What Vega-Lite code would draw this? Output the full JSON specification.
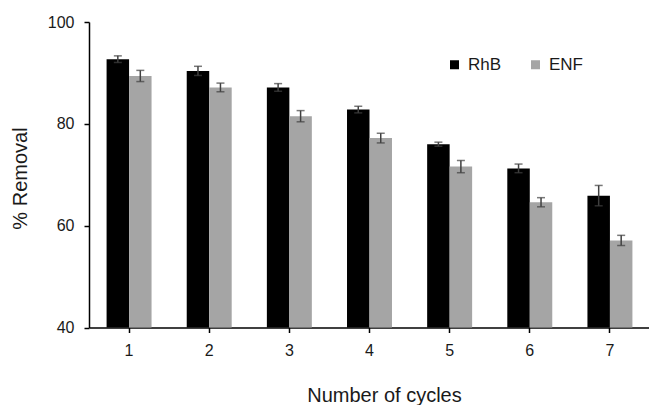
{
  "$schema": "https://vega.github.io/schema/vega-lite/v6.json",
  "width": 561,
  "height": 305.5,
  "autosize": {"type": "none"},
  "padding": {"left": 89, "top": 22, "right": 0, "bottom": 77.5},
  "background": "white",
  "config": {
    "view": {"stroke": null},
    "font": "Liberation Sans",
    "axis": {"grid": false, "domainColor": "#000000", "domainWidth": 1.5, "tickColor": "#000000", "tickWidth": 1.5, "tickSize": 5, "labelColor": "#1a1a1a", "titleColor": "#1a1a1a", "labelFont": "Liberation Sans", "titleFont": "Liberation Sans", "titleFontWeight": "normal"}
  },
  "data": {
    "values": [
      {"cycle": "1", "series": "RhB", "value": 92.7, "lo": 92.05, "hi": 93.35},
      {"cycle": "1", "series": "ENF", "value": 89.4, "lo": 88.3, "hi": 90.5},
      {"cycle": "2", "series": "RhB", "value": 90.4, "lo": 89.5, "hi": 91.3},
      {"cycle": "2", "series": "ENF", "value": 87.15, "lo": 86.3, "hi": 88.0},
      {"cycle": "3", "series": "RhB", "value": 87.15, "lo": 86.4, "hi": 87.9},
      {"cycle": "3", "series": "ENF", "value": 81.5, "lo": 80.4, "hi": 82.6},
      {"cycle": "4", "series": "RhB", "value": 82.8, "lo": 82.15, "hi": 83.45},
      {"cycle": "4", "series": "ENF", "value": 77.2, "lo": 76.25, "hi": 78.15},
      {"cycle": "5", "series": "RhB", "value": 76.0, "lo": 75.6, "hi": 76.4},
      {"cycle": "5", "series": "ENF", "value": 71.6, "lo": 70.4, "hi": 72.8},
      {"cycle": "6", "series": "RhB", "value": 71.25, "lo": 70.4, "hi": 72.1},
      {"cycle": "6", "series": "ENF", "value": 64.6, "lo": 63.7, "hi": 65.5},
      {"cycle": "7", "series": "RhB", "value": 65.9, "lo": 63.9, "hi": 67.9},
      {"cycle": "7", "series": "ENF", "value": 57.1, "lo": 56.1, "hi": 58.1}
    ]
  },
  "encoding": {
    "x": {
      "field": "cycle", "type": "ordinal",
      "scale": {"paddingInner": 0, "paddingOuter": 0},
      "axis": {"title": "Number of cycles", "labelAngle": 0, "labelFontSize": 16, "labelPadding": 10, "titleFontSize": 20, "titleX": 295, "titleY": 74, "titleBaseline": "alphabetic"}
    },
    "xOffset": {
      "field": "series", "type": "nominal",
      "scale": {"domain": ["RhB", "ENF"], "paddingInner": 0, "paddingOuter": 0.782}
    }
  },
  "layer": [
    {
      "mark": {"type": "bar", "clip": true},
      "encoding": {
        "y": {
          "field": "value", "type": "quantitative",
          "scale": {"domain": [40, 100], "nice": false, "zero": false},
          "axis": {"title": "% Removal", "values": [40, 60, 80, 100], "labelFontSize": 16, "labelPadding": 10, "titleFontSize": 20, "titleX": -69, "titleY": 156, "titleAngle": -90, "titleAlign": "center", "titleBaseline": "middle"}
        },
        "color": {
          "field": "series", "type": "nominal",
          "scale": {"domain": ["RhB", "ENF"], "range": ["#000000", "#a5a5a5"]},
          "legend": {"title": null, "orient": "none", "legendX": 357, "legendY": 34, "direction": "horizontal", "symbolType": "square", "symbolSize": 81, "symbolStrokeWidth": 0, "labelFontSize": 17, "labelColor": "#1a1a1a", "labelOffset": 5, "columnPadding": 25}
        }
      }
    },
    {
      "mark": {"type": "rule", "color": "#404040", "strokeWidth": 1.5},
      "encoding": {
        "y": {"field": "lo", "type": "quantitative"},
        "y2": {"field": "hi"}
      }
    },
    {
      "mark": {"type": "tick", "color": "#404040", "thickness": 1.5, "size": 8},
      "encoding": {"y": {"field": "lo", "type": "quantitative"}}
    },
    {
      "mark": {"type": "tick", "color": "#404040", "thickness": 1.5, "size": 8},
      "encoding": {"y": {"field": "hi", "type": "quantitative"}}
    }
  ]
}
